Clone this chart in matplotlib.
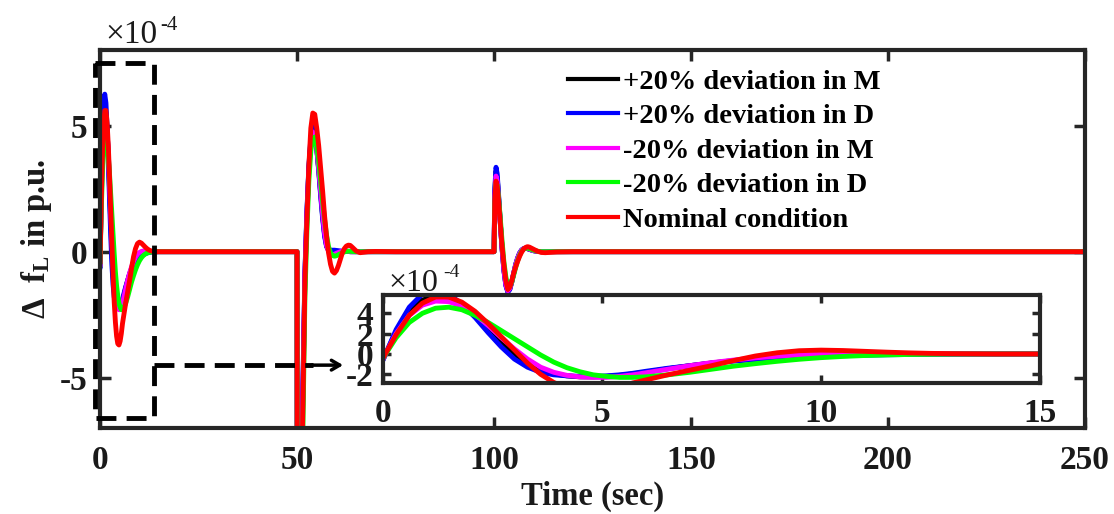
import numpy as np
import matplotlib
matplotlib.use('Agg')
import matplotlib.pyplot as plt

plt.rcParams['font.family'] = ['Liberation Serif', 'DejaVu Serif']
plt.rcParams['font.weight'] = 'bold'
plt.rcParams['axes.labelweight'] = 'bold'
plt.rcParams['axes.unicode_minus'] = False
plt.rcParams['mathtext.fontset'] = 'custom'
plt.rcParams['mathtext.rm'] = 'Liberation Serif:bold'
plt.rcParams['mathtext.it'] = 'Liberation Serif:italic:bold'
plt.rcParams['mathtext.bf'] = 'Liberation Serif:bold'
plt.rcParams['mathtext.sf'] = 'Liberation Serif'

# values in units of 1e-4 p.u.
# first disturbance (t = 0..15), also shown in the inset
t_start = [0, 0.3, 0.6, 0.9, 1.2, 1.5, 1.8, 2.1, 2.4, 2.7, 3.0, 3.3, 3.6, 3.9, 4.2, 4.5, 4.8,
           5.1, 5.4, 5.7, 6.0, 6.5, 7.0, 7.5, 8.0, 8.5, 9.0, 9.5, 10.0, 10.5, 11.0, 11.5,
           12.0, 12.5, 13.0, 14.0, 15.0]
black_start = [-0.55, 2.2, 4.2, 5.3, 5.7, 5.5, 4.8, 3.8, 2.5, 1.2, 0.0, -0.9, -1.55, -1.95, -2.15,
               -2.25, -2.25, -2.2, -2.1, -1.95, -1.78, -1.45, -1.15, -0.88, -0.65, -0.47, -0.32,
               -0.21, -0.13, -0.07, -0.04, -0.02, -0.01, 0, 0, 0, 0]
blue_start = [-0.6, 2.4, 4.6, 5.9, 6.25, 5.9, 4.9, 3.6, 2.1, 0.7, -0.5, -1.3, -1.8, -2.05, -2.15,
              -2.2, -2.2, -2.15, -2.05, -1.9, -1.7, -1.4, -1.15, -0.9, -0.7, -0.55, -0.42, -0.32,
              -0.24, -0.17, -0.12, -0.08, -0.05, -0.03, -0.02, -0.01, 0.0]
magenta_start = [-0.5, 2.0, 3.8, 4.8, 5.2, 5.15, 4.7, 3.9, 2.8, 1.6, 0.5, -0.5, -1.3, -1.8, -2.1,
                 -2.25, -2.3, -2.3, -2.2, -2.05, -1.85, -1.5, -1.15, -0.85, -0.6, -0.38, -0.22,
                 -0.1, -0.03, 0.01, 0.03, 0.03, 0.02, 0.01, 0, 0, 0]
green_start = [-0.4, 1.6, 3.1, 4.0, 4.5, 4.6, 4.35, 3.8, 3.1, 2.3, 1.5, 0.7, -0.1, -0.8, -1.35,
               -1.75, -2.05, -2.2, -2.3, -2.3, -2.25, -2.05, -1.8, -1.5, -1.2, -0.95, -0.72,
               -0.52, -0.36, -0.24, -0.15, -0.09, -0.05, -0.03, -0.01, 0, 0]
red_start = [-0.4, 1.9, 3.8, 5.0, 5.6, 5.6, 5.1, 4.2, 3.0, 1.7, 0.4, -0.9, -2.0, -2.8, -3.35,
             -3.65, -3.7, -3.55, -3.25, -2.85, -2.55, -2.05, -1.6, -1.15, -0.65, -0.2, 0.12,
             0.32, 0.38, 0.34, 0.26, 0.18, 0.11, 0.06, 0.03, 0, 0]

# second disturbance at t = 50
t_50 = [50.0, 50.1, 50.9, 51.4, 52.0, 52.5, 53.0, 53.5, 54.0, 54.5, 55.0, 55.5, 56.0, 56.5,
        57.0, 57.5, 58.0, 58.5, 59.0, 59.5, 60.0, 60.5, 61.0, 61.5, 62.0, 62.5, 63.0, 63.5,
        64.0, 65.0, 66.0, 67.0, 68.0, 70.0, 75.0]
black_50 = [0, -20, -20, -6.3, -0.9, 1.5, 3.3, 4.4, 4.85, 4.7, 4.1, 3.25, 2.3, 1.4, 0.68, 0.22,
            0.04, -0.02, -0.03, -0.02, -0.01, 0, 0, 0.01, 0.01, 0.01, 0.01, 0, 0, 0, 0, 0, 0, 0, 0]
blue_50 = [0, -20, -20, -6.0, -0.8, 1.6, 3.4, 4.5, 4.95, 4.75, 4.1, 3.2, 2.2, 1.3, 0.6, 0.2,
           0.08, 0.06, 0.06, 0.06, 0.05, 0.04, 0.03, 0.02, 0.02, 0.01, 0.01, 0, 0, 0, 0, 0, 0, 0, 0]
magenta_50 = [0, -20, -20, -6.5, -1.0, 1.4, 3.2, 4.3, 4.75, 4.65, 4.1, 3.3, 2.4, 1.5, 0.75, 0.25,
              0.0, -0.1, -0.12, -0.1, -0.06, -0.03, 0.0, 0.02, 0.03, 0.03, 0.02, 0.01, 0, 0, 0,
              0, 0, 0, 0]
green_50 = [0, -20, -20, -8.0, -1.8, 0.8, 2.8, 4.0, 4.5, 4.55, 4.2, 3.6, 2.8, 2.0, 1.25, 0.65,
            0.2, -0.05, -0.15, -0.18, -0.16, -0.12, -0.08, -0.04, -0.01, 0.01, 0.02, 0.02, 0.01,
            0, 0, 0, 0, 0, 0]
red_50 = [0, -20, -20, -7.0, -1.2, 1.2, 3.4, 4.9, 5.5, 5.45, 4.9, 4.2, 3.3, 2.4, 1.4, 0.6,
          -0.05, -0.5, -0.78, -0.85, -0.75, -0.55, -0.3, -0.05, 0.12, 0.22, 0.26, 0.25, 0.18,
          0.03, -0.04, -0.02, 0, 0.01, 0]

# third disturbance at t = 100
t_100 = [100.0, 100.2, 100.5, 100.8, 101.1, 101.5, 102.0, 102.5, 103.0, 103.5, 104.0, 104.5,
         105.0, 105.5, 106.0, 106.5, 107.0, 107.5, 108.0, 108.5, 109.0, 110.0, 111.0, 112.0,
         113.0, 114.0, 116.0, 120.0]
black_100 = [0, 2.35, 3.2, 2.95, 2.3, 1.35, 0.2, -0.72, -1.32, -1.58, -1.48, -1.2, -0.85, -0.51,
             -0.25, -0.06, 0.06, 0.12, 0.13, 0.12, 0.09, 0.04, 0.01, 0, 0, 0, 0, 0]
blue_100 = [0, 2.5, 3.35, 3.1, 2.4, 1.4, 0.2, -0.75, -1.35, -1.6, -1.5, -1.2, -0.85, -0.5,
            -0.25, -0.05, 0.07, 0.12, 0.13, 0.12, 0.09, 0.04, 0.01, 0, 0, 0, 0, 0]
magenta_100 = [0, 2.2, 3.0, 2.8, 2.2, 1.3, 0.2, -0.7, -1.3, -1.55, -1.45, -1.2, -0.85, -0.52,
               -0.26, -0.07, 0.06, 0.12, 0.14, 0.13, 0.1, 0.04, 0.01, 0, 0, 0, 0, 0]
green_100 = [0, 1.9, 2.7, 2.65, 2.2, 1.5, 0.5, -0.4, -1.0, -1.35, -1.38, -1.2, -0.92, -0.62,
             -0.35, -0.14, 0.02, 0.1, 0.14, 0.14, 0.12, 0.06, 0.02, 0, 0, 0, 0, 0]
red_100 = [0, 2.0, 2.8, 2.6, 2.1, 1.3, 0.3, -0.5, -1.15, -1.5, -1.4, -1.15, -0.85, -0.6, -0.38,
           -0.18, -0.02, 0.1, 0.17, 0.2, 0.18, 0.1, 0.02, -0.03, -0.04, -0.03, -0.01, 0]

t_end = 250
labels = ['+20% deviation in M', '+20% deviation in D', '-20% deviation in M',
          '-20% deviation in D', 'Nominal condition']
colours = ['#000000', '#0000FF', '#FF00FF', '#00FF00', '#FF0000']
series = [(black_start, black_50, black_100), (blue_start, blue_50, blue_100),
          (magenta_start, magenta_50, magenta_100), (green_start, green_50, green_100),
          (red_start, red_50, red_100)]

frame = '#262626'
txt = '#1a1a1a'

fig = plt.figure(figsize=(11.14, 5.14), dpi=100)
ax = fig.add_axes([0.0898, 0.167, 0.8842, 0.7357])

for (v0, v50, v100), c, lab in zip(series, colours, labels):
    t = np.concatenate([t_start, t_50, t_100, [t_end]])
    v = np.concatenate([v0, v50, v100, [0]])
    ax.plot(t, v, color=c, lw=3.5, label=lab)

ax.set_xlim(0, 250)
ax.set_ylim(-7, 8)
ax.set_xticks([0, 50, 100, 150, 200, 250])
ax.set_yticks([-5, 0, 5])
ax.tick_params(direction='in', length=8, width=2.5, top=True, right=True,
               labelsize=24, colors=frame, labelcolor=txt)
ax.tick_params(axis='x', pad=12)
ax.tick_params(axis='y', pad=9)
for s in ax.spines.values():
    s.set_linewidth(3)
    s.set_color(frame)

ax.set_xlabel('Time (sec)', fontsize=23.5, color=txt)
ax.xaxis.set_label_coords(0.5, -0.14)
ax.set_ylabel(r'$\mathsf{\Delta}$  f$_{\mathrm{L}}$ in p.u.', fontsize=23.5, color=txt)
ax.yaxis.set_label_coords(-0.047, 0.5)

ax.text(0.005, 1.018, '×10', transform=ax.transAxes, fontsize=24, fontweight='normal',
        color=txt)
ax.text(0.061, 1.052, '-4', transform=ax.transAxes, fontsize=15, fontweight='normal',
        color=txt)

leg = ax.legend(loc='upper left', bbox_to_anchor=(0.475, 0.95), frameon=False,
                fontsize=20.5, handlelength=1.75, handletextpad=0.2, labelspacing=0.3,
                borderaxespad=0, borderpad=0)
for h in leg.get_lines():
    h.set_linewidth(3)

# dashed zoom box and arrow
ax.plot([-1.2, 13.7, 13.7, -1.2, -1.2], [7.47, 7.47, -6.6, -6.6, 7.47], color='k',
        lw=3.5, linestyle='--', dashes=(4.1, 2.1), clip_on=False, zorder=5)
ax.plot([13.7, 54], [-4.5, -4.5], color='k', lw=3.5, linestyle='--', dashes=(4.1, 2.1),
        zorder=5)
ax.annotate('', xy=(61.7, -4.5), xytext=(53.8, -4.5),
            arrowprops=dict(arrowstyle='->, head_length=0.6, head_width=0.35', lw=2.5,
                            color='k', shrinkA=0, shrinkB=0))

# inset
axin = fig.add_axes([0.3438, 0.2549, 0.5898, 0.1712])
for (v0, v50, v100), c in zip(series, colours):
    axin.plot(t_start, v0, color=c, lw=3.5)
axin.set_xlim(0, 15)
axin.set_ylim(-2.85, 5.8)
axin.set_xticks([0, 5, 10, 15])
axin.set_yticks([-2, 0, 2, 4])
axin.tick_params(direction='in', length=6, width=2.5, top=True, right=True,
                 labelsize=24, colors=frame, labelcolor=txt)
axin.tick_params(axis='x', pad=11)
axin.tick_params(axis='y', pad=7)
for s in axin.spines.values():
    s.set_linewidth(3)
    s.set_color(frame)
axin.text(0.008, 1.05, '×10', transform=axin.transAxes, fontsize=23, fontweight='normal',
          color=txt)
axin.text(0.091, 1.2, '-4', transform=axin.transAxes, fontsize=14, fontweight='normal',
          color=txt)

fig.savefig('out.png', dpi=100)
